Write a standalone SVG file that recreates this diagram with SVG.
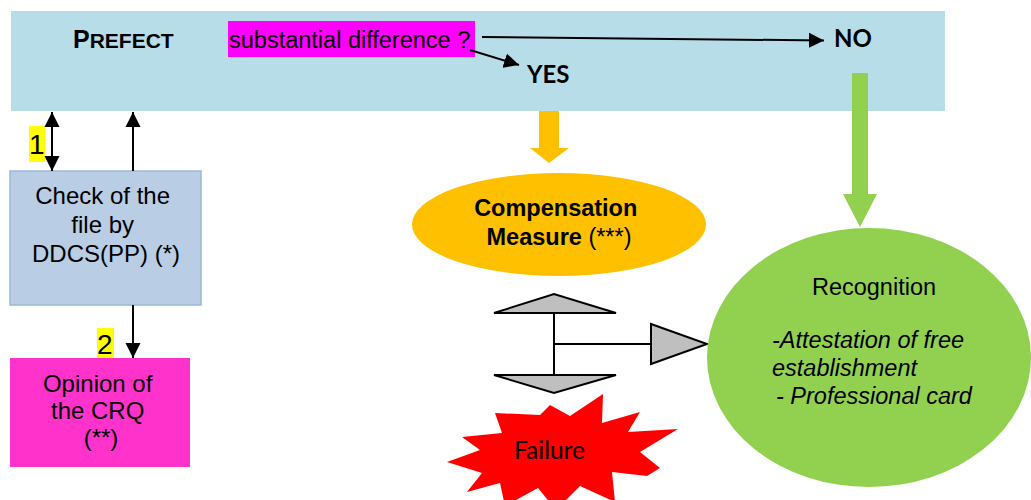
<svg xmlns="http://www.w3.org/2000/svg" width="1031" height="500" viewBox="0 0 1031 500">
  <style>
    .sans { font-family: "Liberation Sans", Arial, sans-serif; fill: #000; }
    .cal { font-family: Lato, "Open Sans", sans-serif; font-weight: bold; fill: #000; }
    .cal-plain { font-family: Lato, "Open Sans", sans-serif; font-weight: normal; fill: #000; }
    .t24 { font-size: 24px; }
    .conn { stroke: #000; stroke-width: 2; fill: none; }
    .gray { fill: #bfbfbf; stroke: #000; stroke-width: 2; stroke-linejoin: miter; }
  </style>
  <defs>
    <marker id="head" markerUnits="userSpaceOnUse" markerWidth="16" markerHeight="16" viewBox="0 0 16 16" refX="15" refY="8" orient="auto-start-reverse">
      <path d="M0,0.5 L15,8 L0,15.5 Z" fill="#000"/>
    </marker>
  </defs>

  <!-- Prefect band -->
  <g id="prefect">
    <rect x="11" y="11" width="934" height="100" fill="#b7dde8"/>
    <text class="sans" x="73" y="48" font-weight="bold"><tspan font-size="25">P</tspan><tspan font-size="21">REFECT</tspan></text>
    <rect x="228" y="21" width="247" height="36" fill="#ff00ff"/>
    <text class="sans" x="229" y="48" font-size="23.5">substantial difference ?</text>
  </g>

  <g id="yes">
    <text class="cal" x="527" y="83" font-size="24">YES</text>
  </g>

  <g id="no">
    <text class="cal" x="834" y="47" font-size="24">NO</text>
  </g>

  <!-- DDCS check -->
  <g id="check">
    <rect x="10" y="171" width="191" height="134" fill="#b9cde5" stroke="#9bb8da" stroke-width="1.5"/>
    <text class="sans t24" text-anchor="middle">
      <tspan x="106" y="204">Check of the</tspan>
      <tspan x="106" y="233">file by</tspan>
      <tspan x="106" y="262">DDCS(PP) (*)</tspan>
    </text>
  </g>

  <!-- CRQ opinion -->
  <g id="opinion">
    <rect x="10" y="358" width="180" height="109" fill="#ff33cc"/>
    <text class="sans t24" text-anchor="middle">
      <tspan x="101" y="392">Opinion of</tspan>
      <tspan x="101" y="419">the CRQ</tspan>
      <tspan x="101" y="446">(**)</tspan>
    </text>
  </g>

  <!-- step numbers -->
  <g id="label1">
    <rect x="29" y="126" width="16" height="36" fill="#ffff00"/>
    <text class="sans" x="29" y="154" font-size="28">1</text>
  </g>
  <g id="label2">
    <rect x="97" y="328" width="17" height="30" fill="#ffff00"/>
    <text class="sans" x="97" y="354" font-size="28">2</text>
  </g>

  <!-- Compensation measure -->
  <g id="compensation">
    <ellipse cx="559" cy="224.5" rx="147" ry="51.5" fill="#ffc000"/>
    <text class="sans" text-anchor="middle" font-size="23.5" font-weight="bold">
      <tspan x="559" y="216">Compensation</tspan>
      <tspan x="559" y="245">Measure <tspan font-weight="normal">(***)</tspan></tspan>
    </text>
  </g>

  <!-- outcome switch -->
  <g id="switch">
    <polygon class="gray" points="494,313 554,294 616,313"/>
    <polygon class="gray" points="494,375 616,375 554,393"/>
    <polygon class="gray" points="651,324 707,344 651,364"/>
    <line class="conn" x1="554" y1="313" x2="554" y2="375"/>
    <line class="conn" x1="554" y1="344" x2="651" y2="344"/>
  </g>

  <!-- Failure -->
  <g id="failure">
    <polygon fill="#ff0000" points="603,394 602,423 640,412 628,432 678,429 640,452 660,468 647,476 612,472 615,502 580,486 556,510 538,488 505,506 500,483 467,492 482,473 447,462 480,450 462,437 502,433 495,413 540,415 550,405 570,416"/>
    <text class="cal-plain" x="514" y="459" font-size="24.5">Failure</text>
  </g>

  <!-- Recognition -->
  <g id="recognition">
    <ellipse cx="869" cy="357.5" rx="162" ry="129.5" fill="#92d050"/>
    <text class="sans" x="874" y="295" text-anchor="middle" font-size="23.5">Recognition</text>
    <text class="sans" font-size="23.5" font-style="italic">
      <tspan x="772" y="348">-Attestation of free</tspan>
      <tspan x="772" y="376">establishment</tspan>
      <tspan x="776" y="404">- Professional card</tspan>
    </text>
  </g>

  <!-- connectors -->
  <g id="connectors">
    <line class="conn" x1="482" y1="37" x2="824" y2="40.5" marker-end="url(#head)"/>
    <line class="conn" x1="470" y1="50" x2="519" y2="65" marker-end="url(#head)"/>
    <line class="conn" x1="52" y1="112" x2="52" y2="171" marker-start="url(#head)" marker-end="url(#head)"/>
    <line class="conn" x1="133" y1="171" x2="133" y2="112" marker-end="url(#head)"/>
    <line class="conn" x1="133" y1="305" x2="133" y2="358" marker-end="url(#head)"/>
    <!-- block arrows -->
    <polygon fill="#ffc000" points="539,111 559,111 559,148 569,148 549,163 530,148 539,148"/>
    <polygon fill="#92d050" points="852,73 868,73 868,194 877,194 860,227 843,194 852,194"/>
  </g>
</svg>
